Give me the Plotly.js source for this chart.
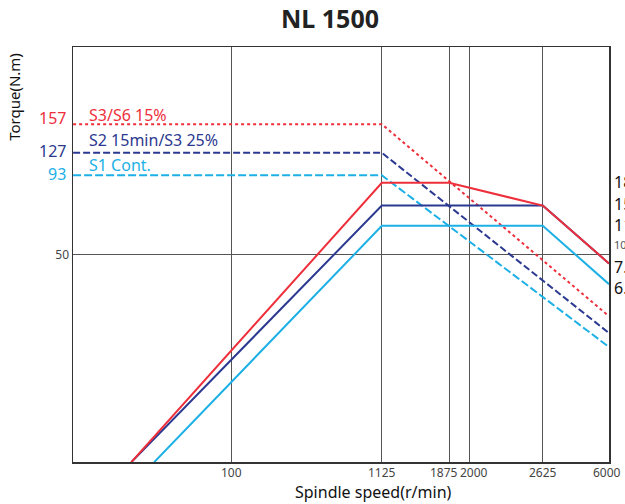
<!DOCTYPE html>
<html>
<head>
<meta charset="utf-8">
<script src="https://cdn.plot.ly/plotly-3.0.1.min.js"></script>
<style>html,body{margin:0;padding:0;background:#fff;}#chart{width:625px;height:504px;}</style>
</head>
<body>
<div id="chart"></div>
<script>
// ---- data ----
const speedTicks = [100, 1125, 1875, 2000, 2625, 6000];
const torqueLabels = [157, 127, 93];
const torqueGrid = [50];
const powerLabels = [18.5, 15, 11, 10, 7.5, 6.5];

const seriesNames = ['S3/S6 15%', 'S2 15min/S3 25%', 'S1 Cont.'];

// power curves (solid), kW
const s3Speed = [19.7, 1125, 1875, 2625, 6000];
const s3Power = [1.9, 18.5, 18.5, 15, 7.5];
const s2Speed = [19.7, 1125, 2625, 6000];
const s2Power = [1.9, 15, 15, 7.5];
const s1Speed = [28.5, 1125, 2625, 6000];
const s1Power = [1.9, 11, 11, 6.5];

// torque curves (dashed), N.m
const torqueSpeed = [7.7, 1125, 6000];
const s3Torque = [157, 157, 30.8];
const s2Torque = [127, 127, 27.0];
const s1Torque = [93, 93, 24.2];

// ---- hand-drawn (non-uniform) scales of the original diagram ----
const xScaleAnchors = {vals: [100, 1125, 1875, 2000, 2625, 6000], pos: [0.2965, 0.5762, 0.7017, 0.7395, 0.8764, 1.0]};
const torqueScaleAnchors = {vals: [50, 93, 127, 157], pos: [0.5001, 0.6908, 0.7451, 0.8138]};
const powerScaleAnchors = {vals: [6.5, 7.5, 10, 11, 15, 18.5], pos: [0.4285, 0.4784, 0.5001, 0.5691, 0.6178, 0.6728]};

function makeScale(a) {
  const lv = a.vals.map(v => Math.log10(v));
  return function (v) {
    const l = Math.log10(v);
    let i = 0;
    while (i < lv.length - 2 && l > lv[i + 1]) i++;
    const t = (l - lv[i]) / (lv[i + 1] - lv[i]);
    return a.pos[i] + t * (a.pos[i + 1] - a.pos[i]);
  };
}
const sx = makeScale(xScaleAnchors);
const sT = makeScale(torqueScaleAnchors);
const sP = makeScale(powerScaleAnchors);

const RED = '#ee2f3b', NAVY = '#2b3990', CYAN = '#1cb0e6';
const FONT = 'Noto Sans, Open Sans, sans-serif';

const traces = [
  {x: torqueSpeed.map(sx), y: s1Torque.map(sT), mode: 'lines', line: {color: CYAN, width: 2, dash: '8px,3px'}, name: seriesNames[2] + ' torque'},
  {x: torqueSpeed.map(sx), y: s2Torque.map(sT), mode: 'lines', line: {color: NAVY, width: 2, dash: '7px,3px'}, name: seriesNames[1] + ' torque'},
  {x: torqueSpeed.map(sx), y: s3Torque.map(sT), mode: 'lines', line: {color: RED, width: 2, dash: '3px,3px'}, name: seriesNames[0] + ' torque'},
  {x: s1Speed.map(sx), y: s1Power.map(sP), mode: 'lines', line: {color: CYAN, width: 2}, name: seriesNames[2]},
  {x: s2Speed.map(sx), y: s2Power.map(sP), mode: 'lines', line: {color: NAVY, width: 2}, name: seriesNames[1]},
  {x: s3Speed.map(sx), y: s3Power.map(sP), mode: 'lines', line: {color: RED, width: 2}, name: seriesNames[0]}
];

const ann = [];
const tColors = [RED, NAVY, CYAN];
const tShift = [6, 1.5, 1];
torqueLabels.forEach((v, i) => {
  ann.push({xref: 'paper', yref: 'y', x: 0, y: sT(v), xanchor: 'right', yanchor: 'middle', xshift: -5, yshift: tShift[i],
    text: String(v), showarrow: false, font: {family: FONT, size: 16, color: tColors[i]}});
});
const nShift = [9, 12.5, 10];
const nameRef = [157, 127, 93];
seriesNames.forEach((n, i) => {
  ann.push({xref: 'paper', yref: 'y', x: 0.026, y: sT(nameRef[i]), xanchor: 'left', yanchor: 'middle', yshift: nShift[i],
    text: n, showarrow: false, font: {family: FONT, size: 16, color: tColors[i]}});
});
const pShift = [1, 2, 1, 0, -4, -4];
powerLabels.forEach((v, i) => {
  const small = (v === 10);
  ann.push({xref: 'paper', yref: 'y', x: 1, y: sP(v), xanchor: 'left', yanchor: small ? 'bottom' : 'middle', xshift: 3, yshift: pShift[i],
    text: String(v), showarrow: false, font: {family: FONT, size: small ? 11 : 16, color: small ? '#555' : '#111'}});
});
// speed tick labels (nudged apart where the gridlines crowd)
const xLabShift = [0, 0, -5, 5, 0, -2];
speedTicks.forEach((v, i) => {
  ann.push({xref: 'x', yref: 'paper', x: sx(v), y: 0, xanchor: 'center', yanchor: 'top', xshift: xLabShift[i], yshift: -1,
    borderpad: 0, text: String(v), showarrow: false, font: {family: FONT, size: 12, color: '#444'}});
});
ann.push({xref: 'paper', yref: 'paper', x: -0.11, y: 0.88, xanchor: 'center', yanchor: 'middle', textangle: -90,
  text: 'Torque(N.m)', showarrow: false, font: {family: FONT, size: 15, color: '#111'}});
ann.push({xref: 'paper', yref: 'paper', x: 0.56, y: -0.073, xanchor: 'center', yanchor: 'middle', borderpad: 0,
  text: 'Spindle speed(r/min)', showarrow: false, font: {family: FONT, size: 16, color: '#111'}});

const layout = {
  width: 625, height: 504,
  margin: {l: 73, r: 16, t: 47, b: 42},
  paper_bgcolor: '#fff', plot_bgcolor: '#fff',
  showlegend: false,
  title: {text: '<b>NL 1500</b>', x: 0.528, xanchor: 'center', y: 0.962, yanchor: 'middle', font: {family: FONT, size: 25, color: '#222'}},
  xaxis: {
    range: [0, 1], showgrid: true, gridcolor: '#555', gridwidth: 1, zeroline: false,
    tickvals: speedTicks.map(sx), ticktext: speedTicks.map(String), ticks: '', showticklabels: false, automargin: false,
    showline: true, mirror: true, linecolor: '#333', linewidth: 1.5, fixedrange: true
  },
  yaxis: {
    range: [0, 1], showgrid: true, gridcolor: '#555', gridwidth: 1, zeroline: false,
    tickvals: torqueGrid.map(sT), ticktext: torqueGrid.map(String), ticks: '', automargin: false,
    tickfont: {family: FONT, size: 12, color: '#444'},
    showline: true, mirror: true, linecolor: '#333', linewidth: 1.5, fixedrange: true
  },
  annotations: ann
};

Plotly.newPlot('chart', traces, layout, {displayModeBar: false, staticPlot: true});
</script>
</body>
</html>
